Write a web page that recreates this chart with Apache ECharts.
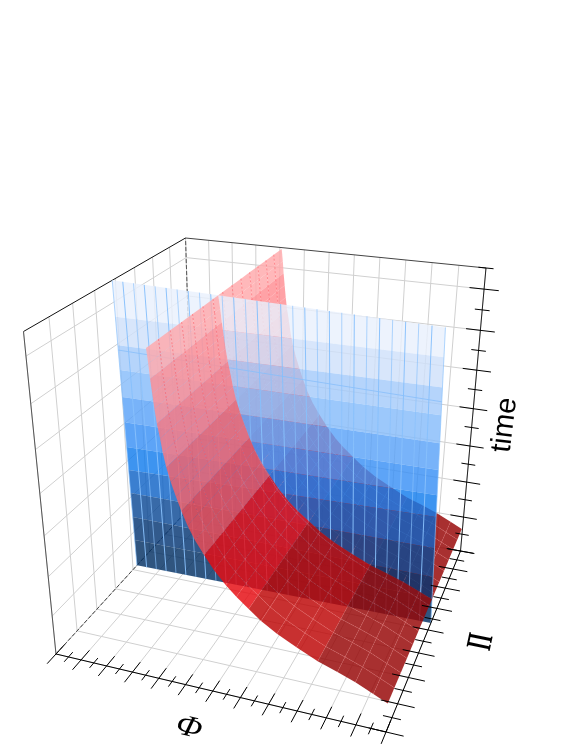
<!DOCTYPE html>
<html lang="en">

<head>
    <meta charset="UTF-8">
    <title>Phi Pi time surfaces</title>
    <script src="https://cdn.jsdelivr.net/npm/echarts@6/dist/echarts.min.js"></script>
</head>

<body style="margin:0;background:#fff">
    <div id="main" style="width:581px;height:752px"></div>
    <script>
        // box corners as seen on screen: phi, pi, time (0..1) -> px
        var boxCorners = [
            [0, 0, 0, 56, 654], [1, 0, 0, 386, 732], [1, 1, 0, 460.5, 551],
            [0, 0, 1, 23.5, 331.5], [0, 1, 1, 185.5, 238], [1, 1, 1, 486, 268]
        ];
        // tick counts on each axis (minor steps)
        var phiSteps = 24, piSteps = 16, timeSteps = 15;

        // red surface: cross section phi(time), swept along pi
        var redTime = [1, 0.96, 0.92, 0.88, 0.84, 0.8, 0.76, 0.72, 0.68, 0.64, 0.6, 0.56, 0.52, 0.48, 0.44, 0.4, 0.36, 0.33, 0.3, 0.27, 0.24, 0.21, 0.18, 0.16, 0.14, 0.115, 0.095];
        var redPhi = [0.345, 0.349, 0.352, 0.356, 0.36, 0.365, 0.372, 0.378, 0.386, 0.397, 0.41, 0.424, 0.44, 0.46, 0.485, 0.512, 0.545, 0.575, 0.61, 0.645, 0.69, 0.745, 0.805, 0.86, 0.91, 0.96, 1];
        var redPi = [0, 0.07, 0.14, 0.21, 0.28, 0.35, 0.42, 0.49, 0.56, 0.63, 0.7, 0.77, 0.84, 0.91, 0.985];
        var redEdges = [0.92, 0.8, 0.68, 0.56, 0.44, 0.3, 0.18];
        var redColors = ['#ffa9ac', '#ff8f94', '#fa7a82', '#f2636b', '#ec4a53', '#e60c12', '#bd0606', '#960606'];

        // blue sheet: pi at its four corners, time edges of the colour bands on both sides
        var bluePiLow = [0.529, 0.539], bluePiHigh = [0.481, 0.412];
        var blueEdgesLeft = [1, 0.887, 0.796, 0.714, 0.624, 0.537, 0.449, 0.366, 0.281, 0.19, 0.101, 0];
        var blueEdgesRight = [1, 0.914, 0.824, 0.738, 0.649, 0.561, 0.476, 0.4, 0.288, 0.18, 0.1, 0];
        var blueColors = ['#e9f0fc', '#cfe0fa', '#a5cbfa', '#86bcfa', '#5aa2f8', '#3990f5', '#127ced', '#1063c6', '#0c4995', '#053673', '#023063'];
        var blueColumns = 28;
        var blueSeamTime = 0.78;

        var gridColor = '#d0d0d0';
        var shapes = [];

        function solve(A, b) {
            var n = b.length;
            A = A.map(function (r, i) { return r.concat(b[i]); });
            for (var i = 0; i < n; i++) {
                var m = i;
                for (var k = i + 1; k < n; k++) if (Math.abs(A[k][i]) > Math.abs(A[m][i])) m = k;
                var t = A[i]; A[i] = A[m]; A[m] = t;
                for (k = 0; k < n; k++) {
                    if (k == i) continue;
                    var f = A[k][i] / A[i][i];
                    for (var j = i; j <= n; j++) A[k][j] -= f * A[i][j];
                }
            }
            return A.map(function (r, i) { return r[n] / r[i]; });
        }

        // least squares fit of the perspective camera
        function fitCamera() {
            var M = [], Y = [];
            boxCorners.forEach(function (a) {
                var u = a[0], v = a[1], w = a[2], x = a[3], y = a[4];
                M.push([u, v, w, 1, 0, 0, 0, 0, -x * u, -x * v, -x * w]); Y.push(x);
                M.push([0, 0, 0, 0, u, v, w, 1, -y * u, -y * v, -y * w]); Y.push(y);
            });
            var N = [], R = [];
            for (var i = 0; i < 11; i++) {
                N.push([]); R.push(0);
                for (var j = 0; j < 11; j++) {
                    var s = 0;
                    for (var k = 0; k < M.length; k++) s += M[k][i] * M[k][j];
                    N[i].push(s);
                }
                for (k = 0; k < M.length; k++) R[i] += M[k][i] * Y[k];
            }
            return solve(N, R);
        }
        var cam = fitCamera();
        function project(q) {
            var d = cam[8] * q[0] + cam[9] * q[1] + cam[10] * q[2] + 1;
            return [(cam[0] * q[0] + cam[1] * q[1] + cam[2] * q[2] + cam[3]) / d,
            (cam[4] * q[0] + cam[5] * q[1] + cam[6] * q[2] + cam[7]) / d];
        }

        function line(a, b, stroke, width, dash) {
            shapes.push({ pts: [a, b], stroke: stroke, width: width || 1, dash: dash });
        }
        function poly(pts, fill) {
            shapes.push({ pts: pts, fill: fill });
        }
        function rgba(hex, a) {
            var n = parseInt(hex.slice(1), 16);
            return 'rgba(' + (n >> 16) + ',' + ((n >> 8) & 255) + ',' + (n & 255) + ',' + a + ')';
        }

        // pi of the blue sheet at a given phi, time
        function bluePi(u, w) {
            var lo = bluePiLow[0] + (bluePiLow[1] - bluePiLow[0]) * u;
            var hi = bluePiHigh[0] + (bluePiHigh[1] - bluePiHigh[0]) * u;
            return lo + (hi - lo) * w;
        }
        function sideOfBlue(q) { return q[1] - bluePi(q[0], q[2]); }

        // keep the part of a polygon with sign*side > 0
        function clip(pts, sign) {
            var out = [];
            pts.forEach(function (a, i) {
                var b = pts[(i + 1) % pts.length];
                var da = sign * sideOfBlue(a), db = sign * sideOfBlue(b);
                if (da >= 0) out.push(a);
                if ((da >= 0) != (db >= 0)) {
                    var t = da / (da - db);
                    out.push([a[0] + (b[0] - a[0]) * t, a[1] + (b[1] - a[1]) * t, a[2] + (b[2] - a[2]) * t]);
                }
            });
            return out;
        }

        function redBand(w) {
            for (var i = 0; i < redEdges.length; i++) if (w > redEdges[i]) return i;
            return redEdges.length;
        }

        function addWalls() {
            var i;
            for (i = 0; i <= phiSteps; i += 2) {
                var u = i / phiSteps;
                line([u, 0, 0], [u, 1, 0], gridColor);
                line([u, 1, 0], [u, 1, 1], gridColor);
            }
            for (i = 0; i <= piSteps; i += 2) {
                var v = i / piSteps;
                line([0, v, 0], [1, v, 0], gridColor);
                line([0, v, 0], [0, v, 1], gridColor);
            }
            for (i = 0; i <= timeSteps; i += 2) {
                var w = i / timeSteps;
                line([0, 0, w], [0, 1, w], gridColor);
                line([0, 1, w], [1, 1, w], gridColor);
            }
            line([0, 0, 1], [0, 1, 1], '#111', 1);
            line([0, 1, 1], [1, 1, 1], '#444', 1);
            line([0, 0, 0], [0, 0, 1], '#555', 1);
            line([0, 0, 0], [0, 1, 0], '#444', 1, [4, 2]);
            line([0, 1, 0], [0, 1, 1], '#555', 1, [4, 2]);
        }

        function addRed(sign) {
            var r, k;
            for (r = 0; r < redTime.length - 1; r++) {
                var c = rgba(redColors[redBand((redTime[r] + redTime[r + 1]) / 2)], 0.83);
                for (k = 0; k < redPi.length - 1; k++) {
                    var quad = [
                        [redPhi[r], redPi[k], redTime[r]], [redPhi[r], redPi[k + 1], redTime[r]],
                        [redPhi[r + 1], redPi[k + 1], redTime[r + 1]], [redPhi[r + 1], redPi[k], redTime[r + 1]]
                    ];
                    var part = clip(quad, sign);
                    if (part.length > 2) poly(part, c);
                }
            }
            // mesh lines: dotted and darker on the pale top, lighter further down
            for (k = 1; k < redPi.length - 1; k++) {
                for (r = 0; r < redTime.length - 1; r++) {
                    var a = [redPhi[r], redPi[k], redTime[r]], b = [redPhi[r + 1], redPi[k], redTime[r + 1]];
                    if (sign * sideOfBlue(a) <= 0) continue;
                    if (r < 12) line(a, b, 'rgba(255,85,95,0.55)', 1, [2, 2]);
                    else line(a, b, 'rgba(255,130,130,0.25)', 1, [3, 1]);
                }
            }
            for (r = 13; r < redTime.length - 1; r++) {
                for (k = 0; k < redPi.length - 1; k++) {
                    a = [redPhi[r], redPi[k], redTime[r]]; b = [redPhi[r], redPi[k + 1], redTime[r]];
                    if (sign * sideOfBlue(a) > 0) line(a, b, 'rgba(255,130,130,0.22)', 1, [3, 1]);
                }
            }
        }

        function addBlue() {
            for (var i = 0; i < blueColors.length; i++) {
                poly([
                    [0, bluePi(0, blueEdgesLeft[i]), blueEdgesLeft[i]],
                    [1, bluePi(1, blueEdgesRight[i]), blueEdgesRight[i]],
                    [1, bluePi(1, blueEdgesRight[i + 1]), blueEdgesRight[i + 1]],
                    [0, bluePi(0, blueEdgesLeft[i + 1]), blueEdgesLeft[i + 1]]
                ], rgba(blueColors[i], 0.82));
            }
            for (var c = 0; c <= blueColumns; c++) {
                var u = c / blueColumns;
                line([u, bluePi(u, 0), 0], [u, bluePi(u, 1), 1], c % 2 ? 'rgba(135,192,252,0.95)' : 'rgba(135,192,252,0.65)', 1);
            }
            line([0, bluePi(0, blueSeamTime), blueSeamTime], [1, bluePi(1, blueSeamTime), blueSeamTime], 'rgba(135,190,250,0.8)', 1);
        }

        function addAxes() {
            var i, L, o = '#000';
            line([0, 0, 0], [1, 0, 0], o);
            line([1, 0, 0], [1, 1, 0], o);
            line([1, 1, 0], [1, 1, 1], '#222');
            for (i = 0; i <= phiSteps; i++) {
                L = i % 2 ? 0.025 : 0.05;
                line([i / phiSteps, -L, 0], [i / phiSteps, L, 0], o);
            }
            for (i = 0; i <= piSteps; i++) {
                L = i % 2 ? 0.025 : 0.048;
                line([1 - L, i / piSteps, 0], [1 + L, i / piSteps, 0], o);
            }
            for (i = 0; i <= timeSteps; i++) {
                L = i % 2 ? 0.023 : 0.045;
                line([1 - L, 1, i / timeSteps], [1 + L, 1, i / timeSteps], o);
            }
        }

        addWalls();
        addRed(1);
        addBlue();
        addRed(-1);
        addAxes();

        var myChart = echarts.init(document.getElementById('main'));
        myChart.setOption({
            animation: false,
            grid: { left: 0, right: 0, top: 0, bottom: 0 },
            xAxis: { type: 'value', min: 0, max: 581, show: false },
            yAxis: { type: 'value', min: 0, max: 752, inverse: true, show: false },
            series: [{
                type: 'custom',
                coordinateSystem: 'cartesian2d',
                silent: true,
                clip: false,
                data: shapes.map(function () { return [0, 0]; }),
                renderItem: function (params, api) {
                    var s = shapes[params.dataIndex];
                    var pts = s.pts.map(function (q) { return api.coord(project(q)); });
                    if (s.fill) return { type: 'polygon', shape: { points: pts }, style: { fill: s.fill } };
                    return {
                        type: 'polyline', shape: { points: pts },
                        style: { stroke: s.stroke, lineWidth: s.width, lineDash: s.dash, fill: null }
                    };
                }
            }],
            graphic: [
                { type: 'text', x: 189, y: 728, rotation: -14 * Math.PI / 180, scaleX: 1.15, style: { text: 'Φ', fill: '#000', font: 'italic 30px "Liberation Serif"', textAlign: 'center', textVerticalAlign: 'middle' } },
                { type: 'text', x: 482, y: 642, rotation: 78 * Math.PI / 180, scaleX: 0.55, style: { text: 'Π', fill: '#000', font: 'bold 36px "Liberation Serif"', textAlign: 'center', textVerticalAlign: 'middle' } },
                { type: 'text', x: 505, y: 425, rotation: 83 * Math.PI / 180, style: { text: 'time', fill: '#000', font: '29px "Liberation Sans"', textAlign: 'center', textVerticalAlign: 'middle' } }
            ]
        });
    </script>
</body>

</html>
